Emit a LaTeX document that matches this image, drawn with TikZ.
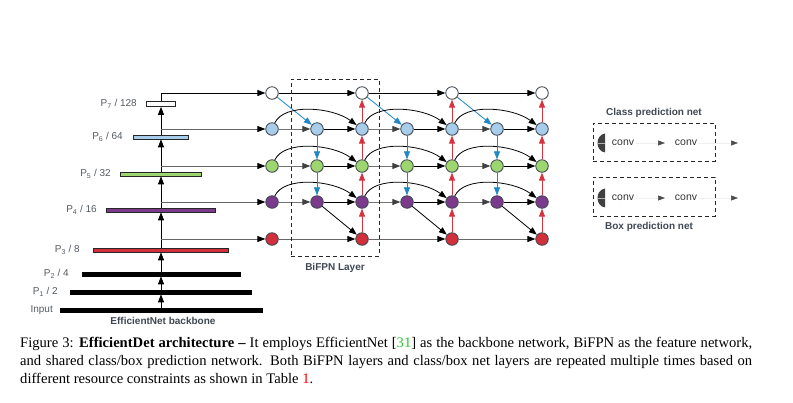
\documentclass[tikz,border=0pt]{standalone}
\usepackage{fontspec}
\setmainfont{Liberation Serif}
\newfontfamily\lsans{Liberation Sans}
\usetikzlibrary{arrows.meta,shadows}
\definecolor{cRed}{HTML}{D12F3A}
\definecolor{cPurple}{HTML}{7B3A8B}
\definecolor{cGreen}{HTML}{9DD56F}
\definecolor{cLblue}{HTML}{A8CDEB}
\definecolor{cBlue}{HTML}{1F87C6}
\definecolor{cRedA}{HTML}{D8323F}
\definecolor{nline}{HTML}{3E4752}
\definecolor{labgray}{HTML}{555B62}
\definecolor{refgreen}{HTML}{22CC22}
\begin{document}
\begin{tikzpicture}[x=1pt,y=-1pt,
  fn/.style={circle, draw=nline, line width=0.8pt, minimum size=12.5pt, inner sep=0pt,
     drop shadow={shadow xshift=0.8pt, shadow yshift=-0.8pt, opacity=0.2}},
  ahead/.style={-{Triangle[length=8pt,width=6pt]}},
  blk/.style={ahead, draw=black, line width=0.8pt},
  gry/.style={-{Triangle[length=8pt,width=6pt,color=black!75]}, draw=black!55, line width=0.8pt},
  gryb/.style={-{Triangle[length=8pt,width=6pt,color=black]}, draw=black!60, line width=0.8pt},
  blu/.style={ahead, draw=cBlue, line width=0.8pt},
  rd/.style={ahead, draw=cRedA, line width=0.8pt},
  barbox/.style={rectangle, inner sep=0pt, minimum height=4pt, draw=black!85, line width=0.7pt},
  lab/.style={font=\lsans\fontsize{10}{12}\selectfont, text=labgray, inner sep=0pt, anchor=east},
  ttl/.style={font=\lsans\bfseries\fontsize{10}{12}\selectfont, text=nline, inner sep=0pt},
  cv/.style={font=\lsans\fontsize{10.5}{12}\selectfont, text=black!80, inner sep=1pt},
  captext/.style={font=\fontsize{14.6}{17}\selectfont, inner sep=0pt, anchor=base west},
  dbox/.style={draw=black!85, dashed, dash pattern=on 4pt off 3pt, line width=0.9pt, inner sep=0pt},
  bbarr/.style={-{Triangle[length=8pt,width=6pt]}, draw=black, line width=0.8pt},
  smallarr/.style={-{Triangle[length=7pt,width=5pt,color=black!70]}, draw=black!6, line width=0.5pt}
]
\path[use as bounding box] (0,0) rectangle (793,403);

% ---------- backbone bars ----------
\node[barbox, minimum width=202pt, fill=black, draw=black] (bIn) at (161,310) {};
\node[barbox, minimum width=181pt, fill=black, draw=black] (b1) at (161,292) {};
\node[barbox, minimum width=158pt, fill=black, draw=black] (b2) at (161,274) {};
\node[barbox, minimum width=135pt, fill=cRed] (b3) at (161,250) {};
\node[barbox, minimum width=109pt, fill=cPurple] (b4) at (161,210) {};
\node[barbox, minimum width=81pt, fill=cGreen] (b5) at (161,174) {};
\node[barbox, minimum width=55pt, fill=cLblue] (b6) at (161,137) {};
\node[barbox, minimum width=29pt, minimum height=5pt, fill=white] (b7) at (161,104) {};

\node[lab] (l7) at (137,104) {P\textsubscript{7} / 128};
\node[lab] (l6) at (123,137) {P\textsubscript{6} / 64};
\node[lab] (l5) at (111,174) {P\textsubscript{5} / 32};
\node[lab] (l4) at (97,210) {P\textsubscript{4} / 16};
\node[lab] (l3) at (80,250) {P\textsubscript{3} / 8};
\node[lab] (l2) at (69,274) {P\textsubscript{2} / 4};
\node[lab] (l1) at (58,292) {P\textsubscript{1} / 2};
\node[lab] (l0) at (53,310) {Input};
\node[ttl] (bbt) at (163,320.5) {EfficientNet backbone};

\draw[bbarr] (bIn.north) -- (b1.south);
\draw[bbarr] (b1.north) -- (b2.south);
\draw[bbarr] (b2.north) -- (b3.south);
\draw[bbarr] (b3.north) -- (b4.south);
\draw[bbarr] (b4.north) -- (b5.south);
\draw[bbarr] (b5.north) -- (b6.south);
\draw[bbarr] (b6.north) -- (b7.south);

% ---------- BiFPN nodes ----------
\foreach \c/\x in {1/272,3/362,5/452,7/542}{
  \node[fn, fill=white] (n\c-7) at (\x,93) {};
  \node[fn, fill=cLblue] (n\c-6) at (\x,129) {};
  \node[fn, fill=cGreen] (n\c-5) at (\x,166) {};
  \node[fn, fill=cPurple] (n\c-4) at (\x,202) {};
  \node[fn, fill=cRed] (n\c-3) at (\x,239) {};
}
\foreach \c/\x in {2/317,4/407,6/497}{
  \node[fn, fill=cLblue] (n\c-6) at (\x,129) {};
  \node[fn, fill=cGreen] (n\c-5) at (\x,166) {};
  \node[fn, fill=cPurple] (n\c-4) at (\x,202) {};
}

% taps from backbone
\coordinate (t6) at (161,129);
\coordinate (t5) at (161,166);
\coordinate (t4) at (161,202);
\coordinate (t3) at (161,239);
\draw[blk] (b7.north) |- (n1-7);
\draw[gryb] (t6) -- (n1-6);
\draw[gryb] (t5) -- (n1-5);
\draw[gryb] (t4) -- (n1-4);
\draw[gryb] (t3) -- (n1-3);

% ---------- BiFPN edges ----------
\foreach \a/\m/\o in {1/2/3,3/4/5,5/6/7}{
  \draw[blk] (n\a-7) -- (n\o-7);
  \draw[blu] (n\a-7) -- (n\m-6);
  \foreach \l in {6,5,4}{
    \draw[gry] (n\a-\l) -- (n\m-\l);
    \draw[blk] (n\m-\l) -- (n\o-\l);
    \draw[blk] (n\a-\l) .. controls +(12,-26) and +(-30,-22) .. (n\o-\l);
  }
  \draw[blu] (n\m-6) -- (n\m-5);
  \draw[blu] (n\m-5) -- (n\m-4);
  \draw[blk] (n\m-4) -- (n\o-3);
  \draw[gryb] (n\a-3) -- (n\o-3);
  \draw[rd] (n\o-3) -- (n\o-4);
  \draw[rd] (n\o-4) -- (n\o-5);
  \draw[rd] (n\o-5) -- (n\o-6);
  \draw[rd] (n\o-6) -- (n\o-7);
}

% BiFPN layer box
\node[dbox, minimum width=88pt, minimum height=177pt] (bifpn) at (335,167.5) {};
\node[ttl] (bifpnt) at (335,268) {BiFPN Layer};

% ---------- prediction nets ----------
\node[ttl] (clst) at (654,113) {Class prediction net};
\node[dbox, minimum width=122pt, minimum height=38pt] (cbox) at (654,142) {};
\node[dbox, minimum width=122pt, minimum height=39pt] (bbox) at (654,196.5) {};
\node[ttl] (boxt) at (649,227) {Box prediction net};

\foreach \y/\k in {143/c,198/b}{
  \fill[black!75] (605,\y-9.5) .. controls (595,\y-8) and (595,\y+8) .. (605,\y+9.5) -- cycle;
  \draw[white!70!black, line width=0.5pt] (598,\y) -- (605,\y);
  \node[cv] (\k1) at (623,\y) {conv};
  \node[cv] (\k2) at (686,\y) {conv};
  \coordinate (\k a) at (665,\y);
  \coordinate (\k b) at (738,\y);
  \draw[smallarr] (\k1) -- (\k a);
  \draw[smallarr] (\k2) -- (\k b);
}

% ---------- caption ----------
\node[captext] (cap1) at (20,348) {\makebox[732pt][s]{Figure 3: \textbf{EfficientDet architecture –} It employs EfficientNet [\textcolor{refgreen}{31}] as the backbone network, BiFPN as the feature network,}};
\node[captext] (cap2) at (20,366) {\makebox[732pt][s]{and shared class/box prediction network. Both BiFPN layers and class/box net layers are repeated multiple times based on}};
\node[captext] (cap3) at (20,384) {different resource constraints as shown in Table \textcolor{red}{1}.};
\end{tikzpicture}
\end{document}
